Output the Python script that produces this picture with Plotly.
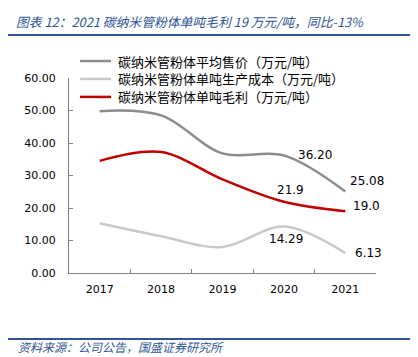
import plotly.graph_objects as go

years = ["2017", "2018", "2019", "2020", "2021"]
price = [49.8, 48.5, 36.8, 36.20, 25.08]
cost = [15.3, 11.3, 8.0, 14.29, 6.13]
margin = [34.5, 37.2, 28.8, 21.9, 19.0]
names = ["碳纳米管粉体平均售价（万元/吨）", "碳纳米管粉体单吨生产成本（万元/吨）", "碳纳米管粉体单吨毛利（万元/吨）"]
colors = ["#8C8C8C", "#C9C9C9", "#C00000"]
y_ticks = [0, 10, 20, 30, 40, 50, 60]

CJK = "Noto Sans CJK SC"
NUM = "DejaVu Sans"
BLUE = "#2F5597"

fig = go.Figure()
for vals, nm, col in zip([price, cost, margin], names, colors):
    fig.add_trace(go.Scatter(x=years, y=vals, name=nm, mode="lines", showlegend=False,
                             line=dict(color=col, width=2.5, shape="spline", smoothing=1)))

# manual legend (paper coordinates)
leg_y = [1.087, 0.995, 0.903]
for ly, nm, col in zip(leg_y, names, colors):
    fig.add_shape(type="line", xref="paper", yref="paper", x0=0.036, x1=0.137, y0=ly, y1=ly,
                  line=dict(color=col, width=2.5))
    fig.add_annotation(xref="paper", yref="paper", x=0.153, y=ly, xanchor="left", yanchor="middle",
                       text=nm, showarrow=False, font=dict(family=CJK, size=13, color="#000000"))

# data labels: (index, y, text, xanchor, xshift, yshift)
i20, i21 = years.index("2020"), years.index("2021")
labels = [
    (i20, price[i20], "36.20", "left", 12, 0),
    (i21, price[i21], "25.08", "left", 3, 10),
    (i20, margin[i20], "21.9", "center", 7, 12),
    (i21, margin[i21], "19.0", "left", 6, 5),
    (i20, cost[i20], "14.29", "center", 2, -12),
    (i21, cost[i21], "6.13", "left", 8, 0),
]
for x, y, t, xa, xs, ys in labels:
    fig.add_annotation(x=x, y=y, text=t, showarrow=False, xanchor=xa, yanchor="middle",
                       xshift=xs, yshift=ys, font=dict(family=NUM, size=12, color="#000000"))

# title and footer
fig.add_annotation(xref="paper", yref="paper", x=-0.178, y=1.292, xanchor="left", yanchor="middle",
                   text="<i>图表 12：2021 碳纳米管粉体单吨毛利 19 万元/吨，同比-13%</i>", showarrow=False,
                   font=dict(family=CJK, size=12.8, color=BLUE))
fig.add_annotation(xref="paper", yref="paper", x=-0.172, y=-0.379, xanchor="left", yanchor="middle",
                   text="<i>资料来源：公司公告，国盛证券研究所</i>", showarrow=False,
                   font=dict(family=CJK, size=12, color=BLUE))
fig.add_shape(type="line", xref="paper", yref="paper", x0=-0.2, x1=1.143, y0=1.2205, y1=1.2205,
              line=dict(color=BLUE, width=2))
fig.add_shape(type="line", xref="paper", yref="paper", x0=-0.2, x1=1.143, y0=-0.338, y1=-0.338,
              line=dict(color=BLUE, width=2))

# page body has an 8px default margin, so the figure is sized to fit the 418x357 window
fig.update_layout(
    width=410, height=349,
    margin=dict(l=61, r=42, t=70, b=84, pad=0),
    paper_bgcolor="white", plot_bgcolor="white",
    showlegend=False,
    xaxis=dict(type="category", range=[-0.5, 4.5], showline=True, linecolor="#7F7F7F", linewidth=1,
               ticks="inside", ticklen=4, tickcolor="#7F7F7F", tickson="boundaries",
               showgrid=False, zeroline=False, ticklabelstandoff=6,
               tickfont=dict(family=NUM, size=11, color="#000000")),
    yaxis=dict(range=[0, 60], tickvals=y_ticks, ticktext=[f"{v:.2f}" for v in y_ticks],
               showline=True, linecolor="#7F7F7F", linewidth=1, ticks="inside", ticklen=4,
               tickcolor="#7F7F7F", showgrid=False, zeroline=False, ticklabelstandoff=10,
               tickfont=dict(family=NUM, size=11, color="#000000")),
)

fig.write_html("out.html")
